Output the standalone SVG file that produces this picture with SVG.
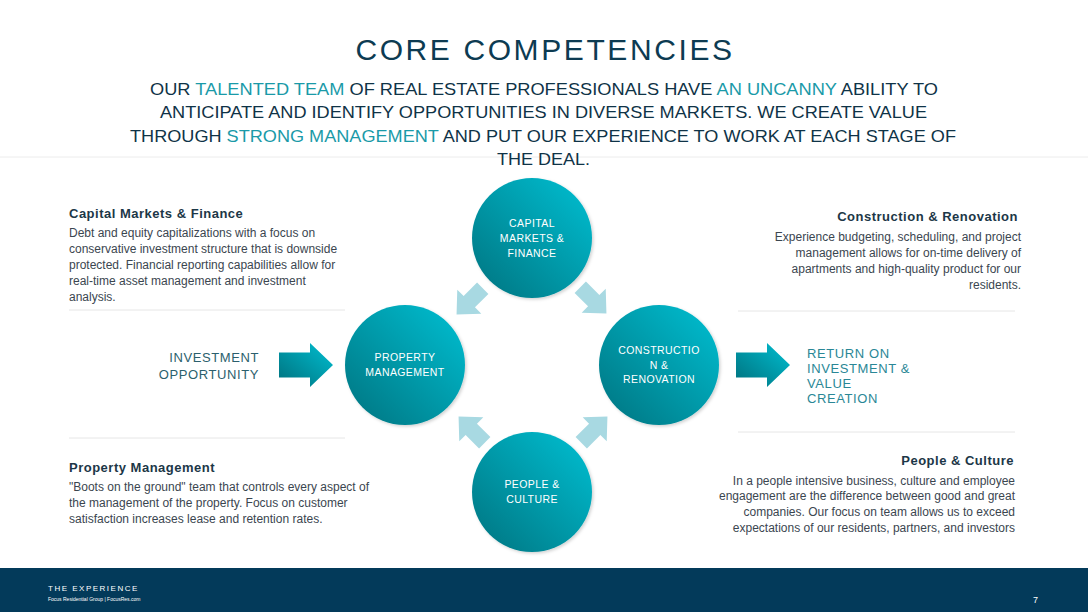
<svg xmlns="http://www.w3.org/2000/svg" width="1088" height="612" viewBox="0 0 1088 612">
<defs>
<linearGradient id="gCircle" x1="1" y1="0" x2="0" y2="1">
<stop offset="0" stop-color="#00c0d3"/>
<stop offset="1" stop-color="#00737f"/>
</linearGradient>
<linearGradient id="gArrow" x1="0" y1="1" x2="1" y2="0">
<stop offset="0" stop-color="#00707c"/>
<stop offset="1" stop-color="#00bfd2"/>
</linearGradient>
<filter id="shadow" x="-20%" y="-20%" width="140%" height="140%">
<feDropShadow dx="1.5" dy="1.5" stdDeviation="1.5" flood-color="#000000" flood-opacity="0.18"/>
</filter>
<path id="smallArrow" d="M-18,-8 L1,-8 L1,-17 L19,0 L1,17 L1,8 L-18,8 Z"/>
<path id="bigArrow" d="M0,-12.5 L31,-12.5 L31,-22 L54,0 L31,22 L31,12.5 L0,12.5 Z"/>
</defs>
<style>
.title{font-family:"Liberation Sans",Arial,sans-serif;font-size:30px;fill:#0d3b52;letter-spacing:2.6px}
.sub{font-family:"Liberation Sans",Arial,sans-serif;font-size:16.5px;fill:#0f3347}
.hl{fill:#1a9aa8}
.head{font-family:"Liberation Sans",Arial,sans-serif;font-size:13px;font-weight:bold;fill:#1c3747;letter-spacing:0.5px}
.body{font-family:"Liberation Sans",Arial,sans-serif;font-size:12px;fill:#3b4650}
.ctext{font-family:"Liberation Sans",Arial,sans-serif;font-size:10.5px;fill:#ffffff;letter-spacing:0.4px;text-anchor:middle}
.side{font-family:"Liberation Sans",Arial,sans-serif;font-size:13px;letter-spacing:0.6px}
.sep{stroke:#e6e6e6;stroke-width:1}
.circ{fill:url(#gCircle);filter:url(#shadow)}
.lar{fill:#a8d9e2}
</style>
<rect width="1088" height="612" fill="#ffffff"/>
<line x1="0" y1="157" x2="1088" y2="157" stroke="#ececec" stroke-width="1"/>
<text class="title" x="545" y="60" text-anchor="middle">CORE COMPETENCIES</text>
<text class="sub" x="150" y="95" textLength="788" lengthAdjust="spacingAndGlyphs">OUR <tspan class="hl">TALENTED TEAM</tspan> OF REAL ESTATE PROFESSIONALS HAVE <tspan class="hl">AN UNCANNY</tspan> ABILITY TO</text>
<text class="sub" x="160" y="118" textLength="767" lengthAdjust="spacingAndGlyphs">ANTICIPATE AND IDENTIFY OPPORTUNITIES IN DIVERSE MARKETS. WE CREATE VALUE</text>
<text class="sub" x="130" y="142" textLength="826" lengthAdjust="spacingAndGlyphs">THROUGH <tspan class="hl">STRONG MANAGEMENT</tspan> AND PUT OUR EXPERIENCE TO WORK AT EACH STAGE OF</text>
<text class="sub" x="497" y="165" textLength="93" lengthAdjust="spacingAndGlyphs">THE DEAL.</text>
<g id="separators">
<line class="sep" x1="69" y1="310" x2="345" y2="310"/>
<line class="sep" x1="69" y1="438" x2="345" y2="438"/>
<line class="sep" x1="738" y1="311" x2="1015" y2="311"/>
<line class="sep" x1="738" y1="432" x2="1015" y2="432"/>
</g>
<g id="desc-capital">
<text class="head" x="69" y="218">Capital Markets &amp; Finance</text>
<text class="body" x="69" y="237">Debt and equity capitalizations with a focus on</text>
<text class="body" x="69" y="253">conservative investment structure that is downside</text>
<text class="body" x="69" y="269">protected.  Financial reporting capabilities allow for</text>
<text class="body" x="69" y="285">real-time asset management and investment</text>
<text class="body" x="69" y="301">analysis.</text>
</g>
<g id="desc-construction" text-anchor="end">
<text class="head" x="1018" y="221">Construction &amp; Renovation</text>
<text class="body" x="1021" y="241">Experience budgeting, scheduling, and project</text>
<text class="body" x="1021" y="257">management allows for on-time delivery of</text>
<text class="body" x="1021" y="273">apartments and high-quality product for our</text>
<text class="body" x="1021" y="289">residents.</text>
</g>
<g id="desc-property">
<text class="head" x="69" y="472">Property Management</text>
<text class="body" x="69" y="491">"Boots on the ground" team that controls every aspect of</text>
<text class="body" x="69" y="507">the management of the property.  Focus on customer</text>
<text class="body" x="69" y="523">satisfaction increases lease and retention rates.</text>
</g>
<g id="desc-people" text-anchor="end">
<text class="head" x="1014" y="465">People &amp; Culture</text>
<text class="body" x="1015" y="485">In a people intensive business, culture and employee</text>
<text class="body" x="1015" y="500">engagement are the difference between good and great</text>
<text class="body" x="1015" y="516">companies.  Our focus on team allows us to exceed</text>
<text class="body" x="1015" y="532">expectations of our residents, partners, and investors</text>
</g>
<g id="investment-opportunity">
<text class="side" x="259" y="362" text-anchor="end" fill="#2b5f6d">INVESTMENT</text>
<text class="side" x="259" y="379" text-anchor="end" fill="#2b5f6d">OPPORTUNITY</text>
</g>
<g id="return-on-investment">
<text class="side" x="807" y="358" fill="#2a8796">RETURN ON</text>
<text class="side" x="807" y="373" fill="#2a8796">INVESTMENT &amp;</text>
<text class="side" x="807" y="388" fill="#2a8796">VALUE</text>
<text class="side" x="807" y="403" fill="#2a8796">CREATION</text>
</g>
<g id="connectors">
<use href="#bigArrow" x="279" y="365" fill="url(#gArrow)"/>
<use href="#bigArrow" x="736" y="365" fill="url(#gArrow)"/>
<use href="#smallArrow" class="lar" transform="translate(470,301) rotate(135)"/>
<use href="#smallArrow" class="lar" transform="translate(593,300) rotate(45)"/>
<use href="#smallArrow" class="lar" transform="translate(472,430) rotate(-135)"/>
<use href="#smallArrow" class="lar" transform="translate(594,430) rotate(-45)"/>
</g>
<g id="node-capital">
<circle class="circ" cx="532" cy="238" r="60"/>
<text class="ctext" x="532" y="227">CAPITAL</text>
<text class="ctext" x="532" y="242">MARKETS &amp;</text>
<text class="ctext" x="532" y="257">FINANCE</text>
</g>
<g id="node-property">
<circle class="circ" cx="405" cy="365" r="60"/>
<text class="ctext" x="405" y="361">PROPERTY</text>
<text class="ctext" x="405" y="376">MANAGEMENT</text>
</g>
<g id="node-construction">
<circle class="circ" cx="659" cy="365" r="60"/>
<text class="ctext" x="659" y="354">CONSTRUCTIO</text>
<text class="ctext" x="659" y="369">N &amp;</text>
<text class="ctext" x="659" y="383">RENOVATION</text>
</g>
<g id="node-people">
<circle class="circ" cx="532" cy="492" r="60"/>
<text class="ctext" x="532" y="488">PEOPLE &amp;</text>
<text class="ctext" x="532" y="503">CULTURE</text>
</g>
<g id="footer">
<rect x="0" y="568" width="1088" height="44" fill="#033a5a"/>
<text x="48" y="591" font-family="Liberation Sans, Arial, sans-serif" font-size="8" fill="#ffffff" letter-spacing="1.5">THE EXPERIENCE</text>
<text x="48" y="601" font-family="Liberation Sans, Arial, sans-serif" font-size="5" fill="#ffffff">Focus Residential Group  |  FocusRes.com</text>
<text x="1033" y="603" font-family="Liberation Sans, Arial, sans-serif" font-size="9" fill="#ffffff">7</text>
</g>
</svg>
